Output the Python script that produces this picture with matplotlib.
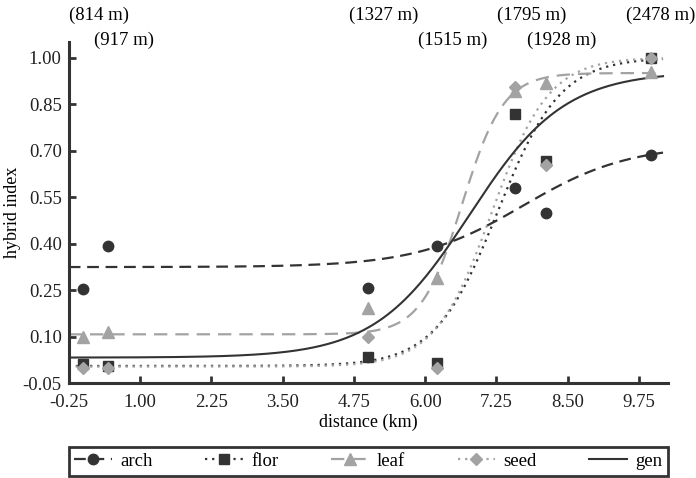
import numpy as np
import matplotlib.pyplot as plt
from matplotlib.lines import Line2D

plt.rcParams['font.family'] = ['Liberation Serif', 'DejaVu Serif']
plt.rcParams['font.size'] = 13.5

# sampling sites along the transect
distance_km = [0.0, 0.44, 5.0, 6.21, 7.58, 8.12, 9.96]
altitude = ['(814 m)', '(917 m)', '(1327 m)', '(1515 m)',
            '(1795 m)', '(1928 m)', '(2478 m)']

# mean hybrid index per site
arch = [0.253, 0.392, 0.258, 0.393, 0.579, 0.498, 0.687]
flor = [0.011, 0.005, 0.033, 0.014, 0.819, 0.667, 1.0]
leaf = [0.100, 0.116, 0.191, 0.290, 0.893, 0.918, 0.953]
seed = [0.0, 0.0, 0.098, 0.0, 0.905, 0.652, 1.0]

# fitted cline parameters: left, right, centre (km), width (km)
arch_cline = [0.324, 0.720, 7.715, 3.74]
flor_cline = [0.005, 1.000, 7.27, 2.20]
leaf_cline = [0.107, 0.950, 6.65, 1.45]
seed_cline = [0.003, 1.000, 7.17, 2.00]
gen_cline = [0.032, 0.955, 6.78, 3.32]

xticks = [-0.25, 1.00, 2.25, 3.50, 4.75, 6.00, 7.25, 8.50, 9.75]
yticks = [-0.05, 0.10, 0.25, 0.40, 0.55, 0.70, 0.85, 1.00]

DARK = '#333333'
LIGHT = '#a3a3a3'


def cline(x, left, right, centre, width):
    return left + (right - left) / (1 + np.exp(-4 * (x - centre) / width))


fig = plt.figure(figsize=(6.96, 4.78), dpi=100)
ax = fig.add_axes([0.0987, 0.1987, 0.8613, 0.7134])

xs = np.linspace(-0.25, 10.17, 400)

series = [
    ('arch', arch, arch_cline, DARK, (0, (5.3, 3.0)), 'o', 7.5),
    ('flor', flor, flor_cline, DARK, (0, (1.0, 2.2)), 's', 7.5),
    ('leaf', leaf, leaf_cline, LIGHT, (0, (6.0, 3.6)), '^', 8),
    ('seed', seed, seed_cline, LIGHT, (0, (1.0, 2.2)), 'D', 6),
]

handles = []
for name, vals, par, col, ls, mk, ms in series:
    ax.plot(xs, cline(xs, *par), color=col, ls=ls, lw=1.6, zorder=2)
    ax.plot(distance_km, vals, ls='none', marker=mk, ms=ms, color=col,
            mec=col, zorder=3, clip_on=False)
    handles.append(Line2D([], [], color=col, ls=ls, lw=1.6, marker=mk,
                          ms=ms, label=name))

ax.plot(xs, cline(xs, *gen_cline), color=DARK, lw=1.5, zorder=2)
handles.append(Line2D([], [], color=DARK, lw=1.5, label='gen'))

ax.set_xlim(-0.25, 10.26)
ax.set_ylim(-0.05, 1.05)
ax.set_xticks(xticks)
ax.set_yticks(yticks)
ax.set_xticklabels(['%.2f' % t for t in xticks])
ax.set_yticklabels(['%.2f' % t for t in yticks])
ax.tick_params(direction='in', length=5, width=2, color=DARK,
               labelcolor='#222222')
ax.tick_params(axis='x', pad=8)
ax.tick_params(axis='y', pad=5)
for s in ['top', 'right']:
    ax.spines[s].set_visible(False)
for s in ['left', 'bottom']:
    ax.spines[s].set_linewidth(2.2)
    ax.spines[s].set_color(DARK)

ax.set_xlabel('distance (km)', fontsize=13, labelpad=2)
ax.set_ylabel('hybrid index', fontsize=13, labelpad=1)

# altitude of each site above the plot, alternating rows
for i, (d, lab) in enumerate(zip(distance_km, altitude)):
    yrow = 1.079 if i % 2 == 0 else 1.006
    dx = 11.5 if i < len(altitude) - 1 else 7
    ax.annotate(lab, xy=(d, yrow), xycoords=('data', 'axes fraction'),
                xytext=(dx, 0), textcoords='offset points',
                ha='center', va='center', annotation_clip=False)

leg = ax.legend(handles=handles, loc='upper left', ncol=5, mode='expand',
                bbox_to_anchor=(0, -0.188, 1, 0), borderaxespad=0,
                fancybox=False, framealpha=1, edgecolor=DARK,
                handlelength=2.0, handletextpad=0.45, borderpad=0.3,
                fontsize=13.5)
leg.get_frame().set_linewidth(2)

fig.savefig('out.png', dpi=100)
